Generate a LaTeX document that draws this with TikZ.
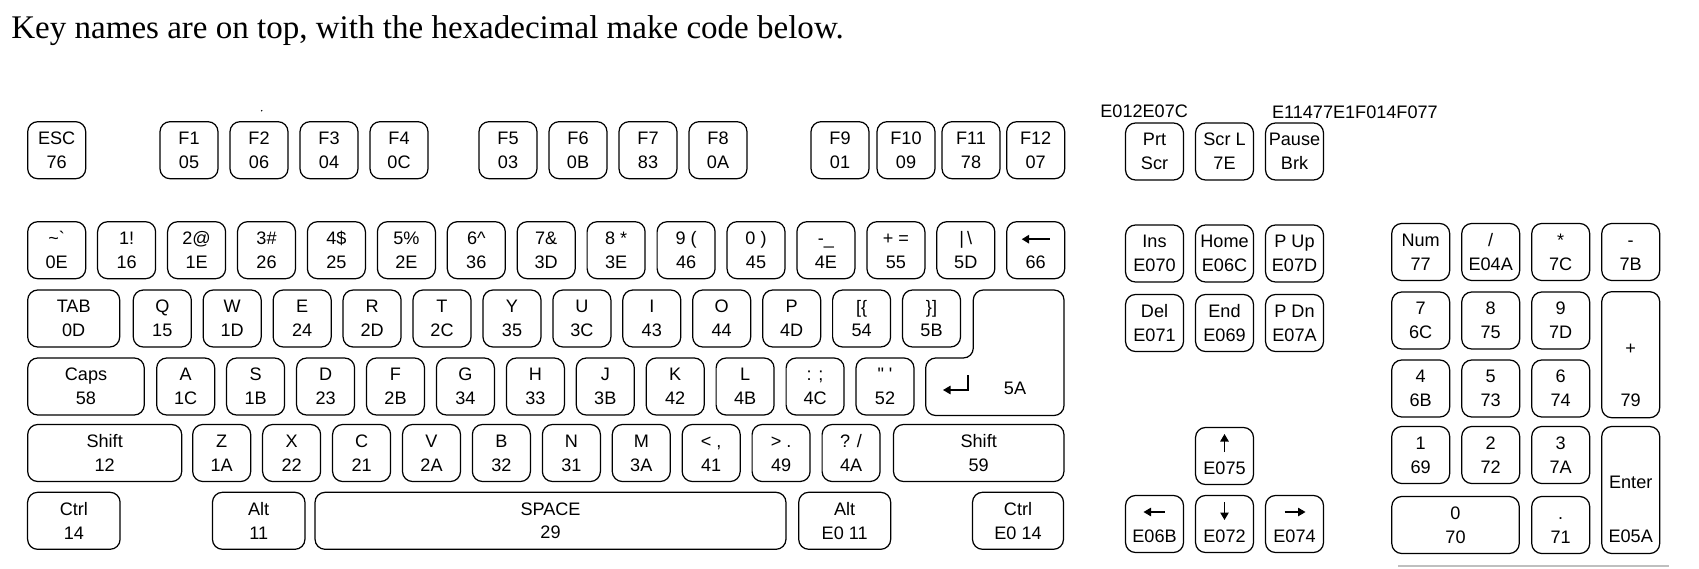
\documentclass[tikz,border=0pt]{standalone}
\usepackage{fontspec}
\setmainfont{Liberation Serif}
\newfontfamily\keyfont{Liberation Sans}[Ligatures=TeXOff]
\usetikzlibrary{arrows.meta}
\newcommand{\kc}[2]{\vphantom{E}#1\\#2}
\begin{document}
\begin{tikzpicture}[x=0.02cm, y=-0.02cm,
	key/.style={
	draw, line width=0.7pt, rounded corners=0.2cm,
	minimum width=1.16cm, minimum height=1.14cm, inner sep=0pt,
	align=center, font=\keyfont\fontsize{10.3}{13.6}\selectfont},
	lbl/.style={inner sep=0pt, font=\keyfont\fontsize{10.3}{13.6}\selectfont},
	arr/.style={-{Triangle[length=0.15cm, width=0.17cm]}, line width=0.6pt}]
	\useasboundingbox (0,0) rectangle (1699,568);
	\node[anchor=base west, inner sep=0pt, font=\fontsize{18.8}{22}\selectfont] (title) at (11,38) {Key names are on top, with the hexadecimal make code below.};
	\fill (261.7,110.7) circle[radius=0.016cm];
	% function row
	\node[key] (esc) at (56.7,150.2) {\kc{ESC}{76}};
	\node[key] (f1) at (189,150.2) {\kc{F1}{05}};
	\node[key] (f2) at (259,150.2) {\kc{F2}{06}};
	\node[key] (f3) at (329,150.2) {\kc{F3}{04}};
	\node[key] (f4) at (399,150.2) {\kc{F4}{0C}};
	\node[key] (f5) at (508,150.2) {\kc{F5}{03}};
	\node[key] (f6) at (578,150.2) {\kc{F6}{0B}};
	\node[key] (f7) at (648,150.2) {\kc{F7}{83}};
	\node[key] (f8) at (718,150.2) {\kc{F8}{0A}};
	\node[key] (f9) at (840,150.2) {\kc{F9}{01}};
	\node[key] (f10) at (906,150.2) {\kc{F10}{09}};
	\node[key] (f11) at (971,150.2) {\kc{F11}{78}};
	\node[key] (f12) at (1035.7,150.2) {\kc{F12}{07}};
	\node[key] (prt) at (1154.5,151.5) {\kc{Prt}{Scr}};
	\node[key] (scrl) at (1224.5,151.5) {\kc{Scr L}{7E}};
	\node[key] (pause) at (1294.5,151.5) {\kc{Pause}{Brk}};
	\node[lbl, anchor=base west] (prtcode) at (1100,117) {E012E07C};
	\node[lbl, anchor=base west] (pausecode) at (1271.7,118) {E11477E1F014F077};
	% number row
	\node[key] (tilde) at (56.7,250.2) {\kc{\textasciitilde\textasciigrave}{0E}};
	\node[key] (n1) at (126.6,250.2) {\kc{1!}{16}};
	\node[key] (n2) at (196.6,250.2) {\kc{2@}{1E}};
	\node[key] (n3) at (266.5,250.2) {\kc{3\#}{26}};
	\node[key] (n4) at (336.4,250.2) {\kc{4\$}{25}};
	\node[key] (n5) at (406.4,250.2) {\kc{5\%}{2E}};
	\node[key] (n6) at (476.3,250.2) {\kc{6\textasciicircum}{36}};
	\node[key] (n7) at (546.2,250.2) {\kc{7\&}{3D}};
	\node[key] (n8) at (616.1,250.2) {\kc{8 *}{3E}};
	\node[key] (n9) at (686.1,250.2) {\kc{9 (}{46}};
	\node[key] (n0) at (756.0,250.2) {\kc{0 )}{45}};
	\node[key] (minus) at (825.9,250.2) {\kc{-\_}{4E}};
	\node[key] (equal) at (895.9,250.2) {\kc{+ =}{55}};
	\node[key] (bslash) at (965.8,250.2) {\kc{\textbar\,\textbackslash}{5D}};
	\node[key] (bksp) at (1035.7,250.2) {\kc{}{66}};
	\draw[arr, line width=1.2pt] ([shift={(14,-11)}]bksp.center) -- ++(-28,0);
	% top letter row
	\node[key, minimum width=1.84cm] (tab) at (73.7,318.5) {\kc{TAB}{0D}};
	\node[key] (kq) at (162.3,318.5) {\kc{Q}{15}};
	\node[key] (kw) at (232.2,318.5) {\kc{W}{1D}};
	\node[key] (ke) at (302.2,318.5) {\kc{E}{24}};
	\node[key] (kr) at (372.1,318.5) {\kc{R}{2D}};
	\node[key] (kt) at (442.0,318.5) {\kc{T}{2C}};
	\node[key] (ky) at (512.0,318.5) {\kc{Y}{35}};
	\node[key] (ku) at (581.9,318.5) {\kc{U}{3C}};
	\node[key] (ki) at (651.8,318.5) {\kc{I}{43}};
	\node[key] (ko) at (721.7,318.5) {\kc{O}{44}};
	\node[key] (kp) at (791.7,318.5) {\kc{P}{4D}};
	\node[key] (lbrk) at (861.6,318.5) {\kc{[\{}{54}};
	\node[key] (rbrk) at (931.5,318.5) {\kc{\}]}{5B}};
	\draw[line width=0.7pt, rounded corners=0.2cm] (973.3,290) -- (1064,290) -- (1064,415.5) -- (925.7,415.5) -- (925.7,358) -- (973.3,358) -- cycle;
	% home row
	\node[key, minimum width=2.33cm] (caps) at (86,386.5) {\kc{Caps}{58}};
	\node[key] (ka) at (185.7,386.5) {\kc{A}{1C}};
	\node[key] (ks) at (255.6,386.5) {\kc{S}{1B}};
	\node[key] (kd) at (325.6,386.5) {\kc{D}{23}};
	\node[key] (kf) at (395.5,386.5) {\kc{F}{2B}};
	\node[key] (kg) at (465.4,386.5) {\kc{G}{34}};
	\node[key] (kh) at (535.4,386.5) {\kc{H}{33}};
	\node[key] (kj) at (605.3,386.5) {\kc{J}{3B}};
	\node[key] (kk) at (675.2,386.5) {\kc{K}{42}};
	\node[key] (kl) at (745.1,386.5) {\kc{L}{4B}};
	\node[key] (semi) at (815.1,386.5) {\kc{: ;}{4C}};
	\node[key] (quote) at (885.0,386.5) {\kc{" '}{52}};
	\node[lbl] (entercode) at (1015,388) {5A};
	\draw[arr] (968,375) -- (968,390) -- (943,390);
	% bottom letter row
	\node[key, minimum width=3.08cm] (lshift) at (104.7,453) {\kc{Shift}{12}};
	\node[key] (kz) at (221.7,453) {\kc{Z}{1A}};
	\node[key] (kx) at (291.6,453) {\kc{X}{22}};
	\node[key] (kc) at (361.6,453) {\kc{C}{21}};
	\node[key] (kv) at (431.5,453) {\kc{V}{2A}};
	\node[key] (kb) at (501.4,453) {\kc{B}{32}};
	\node[key] (kn) at (571.4,453) {\kc{N}{31}};
	\node[key] (km) at (641.3,453) {\kc{M}{3A}};
	\node[key] (comma) at (711.2,453) {\kc{< ,}{41}};
	\node[key] (period) at (781.1,453) {\kc{> .}{49}};
	\node[key] (slash) at (851.1,453) {\kc{? /}{4A}};
	\node[key, minimum width=3.41cm] (rshift) at (978.7,453) {\kc{Shift}{59}};
	% space row
	\node[key, minimum width=1.85cm] (lctrl) at (73.85,520.8) {\kc{Ctrl}{14}};
	\node[key, minimum width=1.85cm] (lalt) at (258.7,520.8) {\kc{Alt}{11}};
	\node[key, minimum width=9.42cm] (space) at (550.5,520.8) {\kc{SPACE}{29}};
	\node[key, minimum width=1.84cm] (ralt) at (844.7,520.8) {\kc{Alt}{E0 11}};
	\node[key, minimum width=1.82cm] (rctrl) at (1018,520.8) {\kc{Ctrl}{E0 14}};
	% edit and cursor keys
	\node[key] (ins) at (1154.5,253.5) {\kc{Ins}{E070}};
	\node[key] (home) at (1224.5,253.5) {\kc{Home}{E06C}};
	\node[key] (pgup) at (1294.5,253.5) {\kc{P Up}{E07D}};
	\node[key] (del) at (1154.5,323) {\kc{Del}{E071}};
	\node[key] (end) at (1224.5,323) {\kc{End}{E069}};
	\node[key] (pgdn) at (1294.5,323) {\kc{P Dn}{E07A}};
	\node[key] (up) at (1224.5,456) {\kc{}{E075}};
	\node[key] (left) at (1154.5,524) {\kc{}{E06B}};
	\node[key] (down) at (1224.5,524) {\kc{}{E072}};
	\node[key] (right) at (1294.5,524) {\kc{}{E074}};
	\draw[arr] ([shift={(0,-4)}]up.center) -- ++(0,-18);
	\draw[arr] ([shift={(0,-22)}]down.center) -- ++(0,18);
	\draw[arr] ([shift={(10,-12)}]left.center) -- ++(-21,0);
	\draw[arr] ([shift={(-10,-12)}]right.center) -- ++(21,0);
	% numeric keypad
	\node[key] (num) at (1420.7,252) {\kc{Num}{77}};
	\node[key] (kpdiv) at (1490.7,252) {\kc{/}{E04A}};
	\node[key] (kpmul) at (1560.7,252) {\kc{*}{7C}};
	\node[key] (kpsub) at (1630.7,252) {\kc{-}{7B}};
	\node[key] (kp7) at (1420.7,320.5) {\kc{7}{6C}};
	\node[key] (kp8) at (1490.7,320.5) {\kc{8}{75}};
	\node[key] (kp9) at (1560.7,320.5) {\kc{9}{7D}};
	\node[key, minimum height=2.52cm] (kpadd) at (1630.7,354.7) {};
	\node[lbl] (kpaddname) at (1630.7,349) {+};
	\node[lbl] (kpaddcode) at (1630.7,400.5) {79};
	\node[key] (kp4) at (1420.7,388.5) {\kc{4}{6B}};
	\node[key] (kp5) at (1490.7,388.5) {\kc{5}{73}};
	\node[key] (kp6) at (1560.7,388.5) {\kc{6}{74}};
	\node[key] (kp1) at (1420.7,455) {\kc{1}{69}};
	\node[key] (kp2) at (1490.7,455) {\kc{2}{72}};
	\node[key] (kp3) at (1560.7,455) {\kc{3}{7A}};
	\node[key, minimum height=2.54cm] (kpenter) at (1630.7,490) {};
	\node[lbl] (kpentername) at (1630.7,482) {Enter};
	\node[lbl] (kpentercode) at (1630.7,536) {E05A};
	\node[key, minimum width=2.55cm] (kp0) at (1455.5,525) {\kc{0}{70}};
	\node[key] (kpdot) at (1560.7,525) {\kc{.}{71}};
	\draw[black!25, line width=0.05cm] (1398,566) -- (1669,566);
\end{tikzpicture}
\end{document}
